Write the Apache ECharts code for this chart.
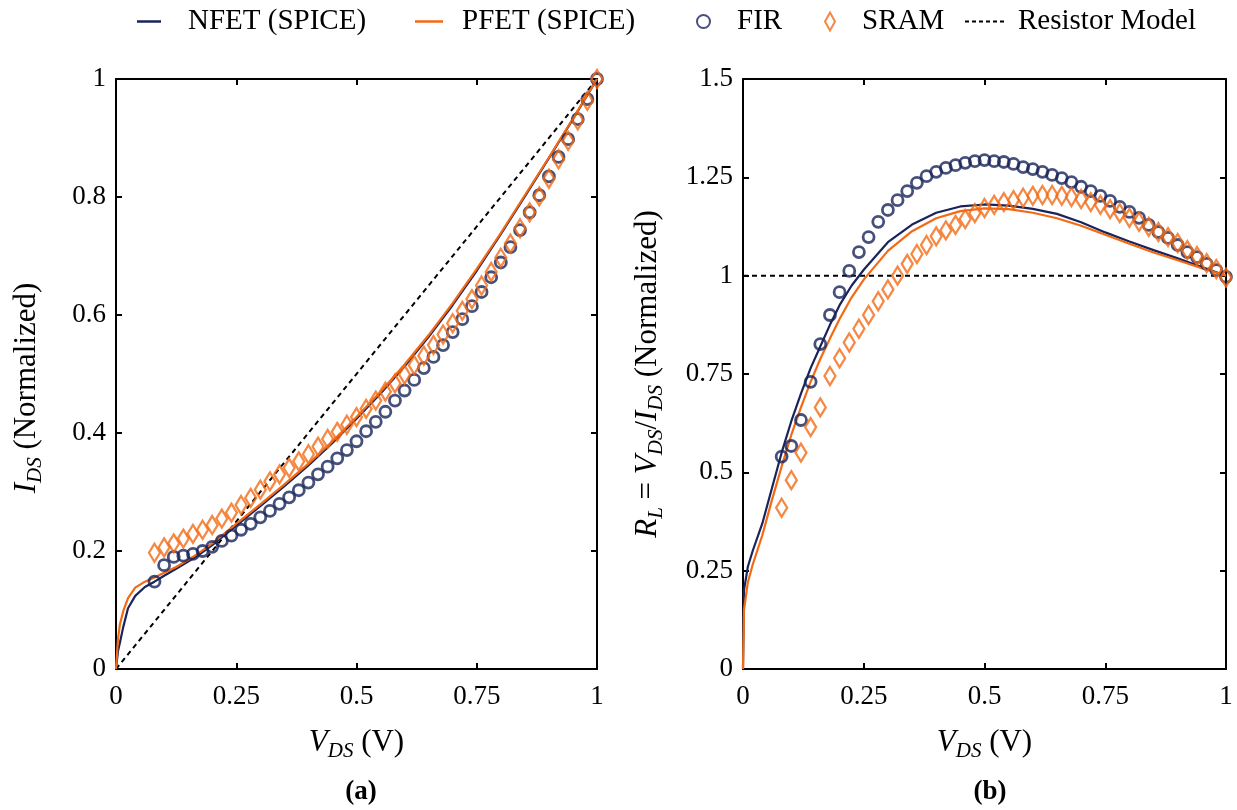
<!DOCTYPE html>
<html>
<head>
<meta charset="utf-8">
<script src="https://cdn.jsdelivr.net/npm/echarts@6/dist/echarts.min.js"></script>
<style>
  html, body { margin: 0; padding: 0; background: #fff; }
  #main { width: 1237px; height: 810px; }
</style>
</head>
<body>
<div id="main"></div>
<script>
// (a) SPICE curves, I_DS vs V_DS
const spiceVLeft = [0, 0.004, 0.008, 0.015, 0.025, 0.04, 0.06, 0.08, 0.1, 0.125, 0.15, 0.175, 0.2, 0.25, 0.3, 0.35, 0.4, 0.45, 0.5, 0.55, 0.6, 0.65, 0.7, 0.75, 0.8, 0.85, 0.9, 0.95, 1.0]
const nfetI = [0, 0.03, 0.044, 0.071, 0.103, 0.124, 0.139, 0.148, 0.158, 0.17, 0.182, 0.195, 0.21, 0.243, 0.276, 0.31, 0.345, 0.383, 0.424, 0.467, 0.513, 0.563, 0.617, 0.675, 0.737, 0.801, 0.866, 0.932, 1.0]
const pfetI = [0, 0.05, 0.075, 0.098, 0.12, 0.138, 0.148, 0.155, 0.163, 0.173, 0.185, 0.198, 0.213, 0.246, 0.279, 0.313, 0.348, 0.386, 0.427, 0.47, 0.516, 0.566, 0.62, 0.678, 0.739, 0.803, 0.867, 0.933, 1.0]

// (b) SPICE curves, R_L vs V_DS
const spiceVRight = [0, 0.002, 0.01, 0.02, 0.04, 0.06, 0.08, 0.1, 0.12, 0.14, 0.16, 0.18, 0.2, 0.225, 0.25, 0.3, 0.35, 0.4, 0.45, 0.5, 0.55, 0.6, 0.65, 0.7, 0.75, 0.8, 0.85, 0.9, 0.95, 1.0]
const nfetR = [0, 0.2, 0.26, 0.3, 0.37, 0.46, 0.55, 0.63, 0.7, 0.765, 0.82, 0.875, 0.925, 0.975, 1.015, 1.085, 1.13, 1.16, 1.176, 1.181, 1.178, 1.17, 1.157, 1.136, 1.11, 1.087, 1.065, 1.044, 1.022, 1.0]
const pfetR = [0, 0.15, 0.22, 0.265, 0.34, 0.43, 0.515, 0.595, 0.665, 0.73, 0.788, 0.84, 0.89, 0.945, 0.99, 1.063, 1.113, 1.146, 1.164, 1.171, 1.169, 1.16, 1.146, 1.127, 1.104, 1.081, 1.059, 1.039, 1.019, 1.0]

// measured points (FIR / SRAM)
const markV = [0.08, 0.1, 0.12, 0.14, 0.16, 0.18, 0.2, 0.22, 0.24, 0.26, 0.28, 0.3, 0.32, 0.34, 0.36, 0.38, 0.4, 0.42, 0.44, 0.46, 0.48, 0.5, 0.52, 0.54, 0.56, 0.58, 0.6, 0.62, 0.64, 0.66, 0.68, 0.7, 0.72, 0.74, 0.76, 0.78, 0.8, 0.82, 0.84, 0.86, 0.88, 0.9, 0.92, 0.94, 0.96, 0.98, 1.0]
const firI = [0.148, 0.176, 0.19, 0.192, 0.195, 0.2, 0.207, 0.217, 0.226, 0.236, 0.246, 0.257, 0.268, 0.28, 0.291, 0.303, 0.316, 0.33, 0.343, 0.357, 0.371, 0.386, 0.403, 0.419, 0.436, 0.455, 0.472, 0.49, 0.51, 0.529, 0.549, 0.571, 0.593, 0.615, 0.639, 0.664, 0.689, 0.715, 0.744, 0.774, 0.803, 0.835, 0.868, 0.898, 0.932, 0.966, 1.0]
const sramI = [0.197, 0.206, 0.213, 0.221, 0.229, 0.236, 0.244, 0.255, 0.265, 0.278, 0.29, 0.304, 0.318, 0.33, 0.341, 0.352, 0.364, 0.377, 0.39, 0.402, 0.414, 0.427, 0.441, 0.455, 0.47, 0.484, 0.499, 0.515, 0.531, 0.549, 0.567, 0.586, 0.607, 0.627, 0.65, 0.673, 0.697, 0.721, 0.747, 0.774, 0.801, 0.831, 0.864, 0.895, 0.93, 0.963, 1.0]
const firR = [0.54, 0.567, 0.633, 0.73, 0.826, 0.9, 0.958, 1.012, 1.06, 1.098, 1.137, 1.167, 1.192, 1.215, 1.236, 1.253, 1.264, 1.274, 1.281, 1.287, 1.291, 1.294, 1.291, 1.289, 1.284, 1.276, 1.271, 1.264, 1.256, 1.248, 1.238, 1.226, 1.215, 1.203, 1.19, 1.175, 1.162, 1.147, 1.129, 1.111, 1.096, 1.078, 1.06, 1.047, 1.03, 1.014, 0.997]
const sramR = [0.41, 0.48, 0.55, 0.615, 0.665, 0.745, 0.79, 0.83, 0.865, 0.9, 0.935, 0.965, 1.0, 1.03, 1.055, 1.078, 1.1, 1.115, 1.129, 1.144, 1.159, 1.172, 1.18, 1.187, 1.192, 1.198, 1.203, 1.205, 1.205, 1.203, 1.2, 1.195, 1.187, 1.18, 1.169, 1.159, 1.147, 1.137, 1.124, 1.111, 1.098, 1.083, 1.065, 1.05, 1.032, 1.017, 0.995]

// resistor model
const resV = [0, 1]
const resI = [0, 1]
const resR = [1, 1]

const xTicks = 0.25
const yTicksLeft = 0.2
const yTicksRight = 0.25

const navy = '#18245a'
const orange = '#f36a14'
const serif = 'Liberation Serif'

const pts = (xs, ys) => xs.map((x, i) => [x, ys[i]])

const rich = {
  v: { fontFamily: serif, fontStyle: 'italic', fontSize: 31, lineHeight: 38, color: '#000' },
  s: { fontFamily: serif, fontStyle: 'italic', fontSize: 21, lineHeight: 14, verticalAlign: 'bottom', color: '#000' },
  n: { fontFamily: serif, fontSize: 31, lineHeight: 38, color: '#000' }
}

function axisBase(extra) {
  return Object.assign({
    type: 'value',
    axisLine: { show: true, onZero: false, lineStyle: { color: '#000', width: 2 } },
    axisTick: { show: true, inside: true, length: 6, lineStyle: { color: '#000', width: 2 } },
    splitLine: { show: false },
    axisLabel: { color: '#000', fontFamily: serif, fontSize: 27 }
  }, extra)
}

function mirror(a) {
  a.axisLabel = { show: false }
  return a
}

// one legend box per entry so each sits where the original puts it
function legendItem(name, left, icon, w, h, pad) {
  return {
    data: [{ name: name, icon: icon }],
    top: 2, left: left,
    itemWidth: w, itemHeight: h,
    textStyle: { fontFamily: serif, fontSize: 29, color: '#000', padding: [0, 0, 0, pad] }
  }
}
const dashIcon = 'path://M0,0h4v2h-4z M7,0h4v2h-4z M14,0h4v2h-4z M21,0h4v2h-4z M28,0h4v2h-4z M35,0h4v2h-4z'

const chart = echarts.init(document.getElementById('main'))

chart.setOption({
  backgroundColor: '#fff',
  animation: false,
  title: [
    { text: '(a)', left: 356, top: 774, textAlign: 'center',
      textStyle: { fontFamily: serif, fontWeight: 'bold', fontSize: 27, color: '#000' } },
    { text: '(b)', left: 985, top: 774, textAlign: 'center',
      textStyle: { fontFamily: serif, fontWeight: 'bold', fontSize: 27, color: '#000' } }
  ],
  legend: [
    legendItem('NFET (SPICE)', 132, 'rect', 24, 2.5, 22),
    legendItem('PFET (SPICE)', 410, 'rect', 28, 2.5, 14),
    legendItem('FIR', 691, 'circle', 13, 13, 22),
    legendItem('SRAM', 819, 'diamond', 10, 18, 22),
    legendItem('Resistor Model', 960, dashIcon, 39, 2, 9)
  ],
  grid: [
    { left: 116, top: 79, width: 481, height: 590 },
    { left: 743, top: 79, width: 483, height: 590 }
  ],
  xAxis: [
    axisBase({ gridIndex: 0, min: 0, max: 1, interval: xTicks, position: 'bottom',
      axisLabel: { color: '#000', fontFamily: serif, fontSize: 27, margin: 14 },
      name: '{v|V}{s|DS}{n| (V)}', nameLocation: 'middle', nameGap: 55,
      nameTextStyle: { rich: rich } }),
    mirror(axisBase({ gridIndex: 0, min: 0, max: 1, interval: xTicks, position: 'top' })),
    axisBase({ gridIndex: 1, min: 0, max: 1, interval: xTicks, position: 'bottom',
      axisLabel: { color: '#000', fontFamily: serif, fontSize: 27, margin: 14 },
      name: '{v|V}{s|DS}{n| (V)}', nameLocation: 'middle', nameGap: 55,
      nameTextStyle: { rich: rich } }),
    mirror(axisBase({ gridIndex: 1, min: 0, max: 1, interval: xTicks, position: 'top' }))
  ],
  yAxis: [
    axisBase({ gridIndex: 0, min: 0, max: 1, interval: yTicksLeft, position: 'left',
      axisLabel: { color: '#000', fontFamily: serif, fontSize: 27, margin: 10 },
      name: '{v|I}{s|DS}{n| (Normalized)}', nameLocation: 'middle', nameGap: 70,
      nameTextStyle: { rich: rich, padding: [0, 28, 0, 0] } }),
    mirror(axisBase({ gridIndex: 0, min: 0, max: 1, interval: yTicksLeft, position: 'right' })),
    axisBase({ gridIndex: 1, min: 0, max: 1.5, interval: yTicksRight, position: 'left',
      axisLabel: { color: '#000', fontFamily: serif, fontSize: 27, margin: 10 },
      name: '{v|R}{s|L}{n| = }{v|V}{s|DS}{n|/}{v|I}{s|DS}{n| (Normalized)}', nameLocation: 'middle', nameGap: 76,
      nameTextStyle: { rich: rich } }),
    mirror(axisBase({ gridIndex: 1, min: 0, max: 1.5, interval: yTicksRight, position: 'right' }))
  ],
  series: [
    // left panel
    { name: 'Resistor Model', type: 'line', xAxisIndex: 0, yAxisIndex: 0, showSymbol: false, symbol: 'none', z: 1,
      lineStyle: { color: '#000', width: 2, type: [5, 4] }, itemStyle: { color: '#000' }, data: pts(resV, resI) },
    { name: 'NFET (SPICE)', type: 'line', xAxisIndex: 0, yAxisIndex: 0, showSymbol: false, symbol: 'none', z: 2,
      lineStyle: { color: navy, width: 2.2 }, itemStyle: { color: navy }, data: pts(spiceVLeft, nfetI) },
    { name: 'PFET (SPICE)', type: 'line', xAxisIndex: 0, yAxisIndex: 0, showSymbol: false, symbol: 'none', z: 2,
      lineStyle: { color: orange, width: 2.2 }, itemStyle: { color: orange }, data: pts(spiceVLeft, pfetI) },
    { name: 'FIR', type: 'scatter', xAxisIndex: 0, yAxisIndex: 0, symbol: 'circle', symbolSize: 11, z: 3,
      itemStyle: { color: 'rgba(255,255,255,0)', borderColor: navy, borderWidth: 2.8 }, data: pts(markV, firI) },
    { name: 'SRAM', type: 'scatter', xAxisIndex: 0, yAxisIndex: 0, symbol: 'diamond', symbolSize: [11, 18], z: 4,
      itemStyle: { color: 'rgba(255,255,255,0)', borderColor: orange, borderWidth: 2.4 }, data: pts(markV, sramI) },
    // right panel
    { name: 'Resistor Model', type: 'line', xAxisIndex: 2, yAxisIndex: 2, showSymbol: false, symbol: 'none', z: 1,
      lineStyle: { color: '#000', width: 2, type: [5, 4] }, itemStyle: { color: '#000' }, data: pts(resV, resR) },
    { name: 'NFET (SPICE)', type: 'line', xAxisIndex: 2, yAxisIndex: 2, showSymbol: false, symbol: 'none', z: 2,
      lineStyle: { color: navy, width: 2.2 }, itemStyle: { color: navy }, data: pts(spiceVRight, nfetR) },
    { name: 'PFET (SPICE)', type: 'line', xAxisIndex: 2, yAxisIndex: 2, showSymbol: false, symbol: 'none', z: 2,
      lineStyle: { color: orange, width: 2.2 }, itemStyle: { color: orange }, data: pts(spiceVRight, pfetR) },
    { name: 'FIR', type: 'scatter', xAxisIndex: 2, yAxisIndex: 2, symbol: 'circle', symbolSize: 11, z: 3,
      itemStyle: { color: 'rgba(255,255,255,0)', borderColor: navy, borderWidth: 2.8 }, data: pts(markV, firR) },
    { name: 'SRAM', type: 'scatter', xAxisIndex: 2, yAxisIndex: 2, symbol: 'diamond', symbolSize: [11, 18], z: 4,
      itemStyle: { color: 'rgba(255,255,255,0)', borderColor: orange, borderWidth: 2.4 }, data: pts(markV, sramR) }
  ]
})
</script>
</body>
</html>
